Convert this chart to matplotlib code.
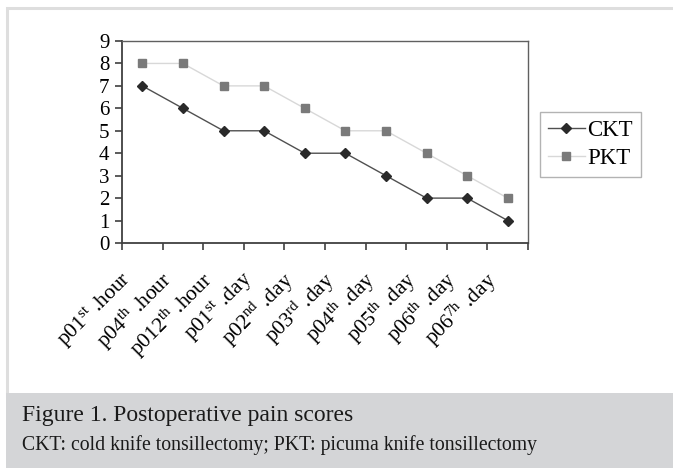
import matplotlib
matplotlib.use("Agg")
import matplotlib.pyplot as plt
import matplotlib.transforms as mtransforms
from matplotlib.patches import Rectangle

plt.rcParams['font.family'] = ['Liberation Serif', 'DejaVu Serif']
plt.rcParams['mathtext.fontset'] = 'custom'
plt.rcParams['mathtext.rm'] = 'Liberation Serif'
plt.rcParams['mathtext.it'] = 'Liberation Serif:italic'

## data
labels = [r"p01$^{\mathrm{st}}$ .hour", r"p04$^{\mathrm{th}}$ .hour",
          r"p012$^{\mathrm{th}}$ .hour", r"p01$^{\mathrm{st}}$ .day",
          r"p02$^{\mathrm{nd}}$ .day", r"p03$^{\mathrm{rd}}$ .day",
          r"p04$^{\mathrm{th}}$ .day", r"p05$^{\mathrm{th}}$ .day",
          r"p06$^{\mathrm{th}}$ .day", r"p06$^{\mathrm{7h}}$ .day"]
ckt = [7, 6, 5, 5, 4, 4, 3, 2, 2, 1]
pkt = [8, 8, 7, 7, 6, 5, 5, 4, 3, 2]
yticks = list(range(0, 10))

W, H = 673, 468
fig = plt.figure(figsize=(W / 100, H / 100), dpi=100)

# outer frame and caption band (behind the axes)
fig.patches.append(Rectangle((7 / W, 1 - 395 / H), 1.0, 387 / H, transform=fig.transFigure,
                             facecolor='white', edgecolor='#dedede', lw=2.2, zorder=-10))
fig.patches.append(Rectangle((6 / W, 0), 1.0, 1 - 393 / H, transform=fig.transFigure,
                             facecolor='#d4d5d7', edgecolor='none', zorder=-9))

ax = fig.add_axes([122 / W, 1 - 243 / H, 406 / W, 202 / H])
ax.set_facecolor('none')
x = list(range(len(labels)))
ax.plot(x, ckt, color='#505050', lw=1.0, marker='D', ms=5.2,
        mfc='#2a2a2a', mec='#2a2a2a', label='CKT')
ax.plot(x, pkt, color='#d8d8d8', lw=1.0, marker='s', ms=6,
        mfc='#7a7a7a', mec='#7a7a7a', label='PKT')

ax.set_xlim(-0.5, len(labels) - 0.5)
ax.set_ylim(0, 9)
ax.set_yticks(yticks)
ax.set_yticklabels([str(v) for v in yticks], fontsize=15)
ax.set_xticks([i - 0.5 for i in range(len(labels) + 1)])
ax.set_xticklabels([])
ax.set_xticks(x, minor=True)
ax.set_xticklabels(labels, minor=True, fontsize=15.5, rotation=45,
                   ha='right', va='top', rotation_mode='anchor')
ax.tick_params(axis='x', which='minor', length=0, pad=17.5)
ax.tick_params(axis='both', which='major', direction='out', length=5,
               width=1.2, color='#404040', pad=3)
ax.tick_params(axis='y', pad=4)
offset = mtransforms.ScaledTranslation(-23 / 100, 0, fig.dpi_scale_trans)
for lbl in ax.get_xticklabels(minor=True):
    lbl.set_transform(lbl.get_transform() + offset)

for side in ['left', 'bottom']:
    ax.spines[side].set_color('#404040')
    ax.spines[side].set_linewidth(1.3)
for side in ['top', 'right']:
    ax.spines[side].set_color('#606060')
    ax.spines[side].set_linewidth(1.0)

leg = fig.legend(loc='upper left', bbox_to_anchor=(540 / W, 1 - 112 / H),
                 fontsize=16.5, frameon=True, fancybox=False, edgecolor='#a0a0a0',
                 borderaxespad=0, borderpad=0.35, handlelength=1.6,
                 handletextpad=0.1, labelspacing=0.3)
leg.get_frame().set_linewidth(1.0)

fig.text(22 / W, 1 - 421 / H, "Figure 1. Postoperative pain scores", fontsize=17,
         color='#1a1a1a', va='baseline')
fig.text(22 / W, 1 - 450 / H, "CKT: cold knife tonsillectomy; PKT: picuma knife tonsillectomy",
         fontsize=14.25, color='#1a1a1a', va='baseline')

fig.savefig("out.png", dpi=100)
